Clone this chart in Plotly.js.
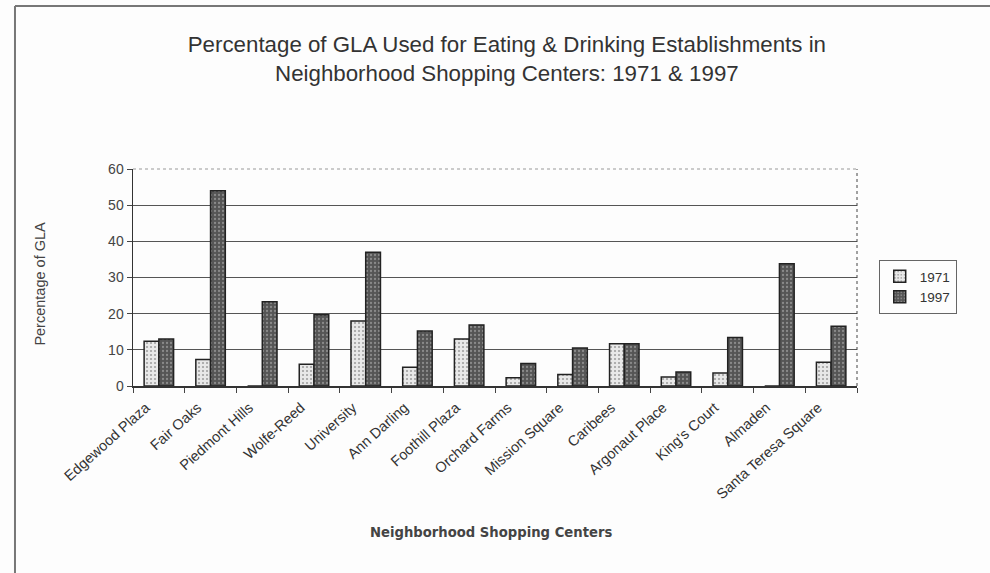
<!DOCTYPE html>
<html>
<head>
<meta charset="utf-8">
<script src="https://cdn.plot.ly/plotly-3.0.1.min.js"></script>
<style>
  html, body { margin: 0; padding: 0; background: #fdfdfd; }
  #chart { width: 990px; height: 573px; }
</style>
</head>
<body>
<div id="chart"></div>
<script>
// Neighborhood shopping centers
const centers = [
  "Edgewood Plaza", "Fair Oaks", "Piedmont Hills", "Wolfe-Reed", "University",
  "Ann Darling", "Foothill Plaza", "Orchard Farms", "Mission Square", "Caribees",
  "Argonaut Place", "King's Court", "Almaden", "Santa Teresa Square"
];

// Share of gross leasable area used for eating & drinking (%)
const pct1971 = [12.4, 7.3, 0, 6.0, 18.0, 5.2, 13.0, 2.3, 3.2, 11.7, 2.5, 3.6, 0, 6.6];
const pct1997 = [13.0, 54.0, 23.3, 19.7, 37.0, 15.2, 16.9, 6.2, 10.5, 11.7, 3.9, 13.4, 33.8, 16.5];

const yTicks = [0, 10, 20, 30, 40, 50, 60];

const font = "Liberation Sans, Arial, sans-serif";

const traces = [
  {
    type: "bar", name: "1971", x: centers, y: pct1971,
    marker: {
      color: "#e6e6e6",
      line: { color: "#222", width: 1.5 },
      pattern: { shape: ".", fgcolor: "#a0a0a0", bgcolor: "#e8e8e8", size: 4, solidity: 0.22 }
    },
    hoverinfo: "x+y"
  },
  {
    type: "bar", name: "1997", x: centers, y: pct1997,
    marker: {
      color: "#5a5a5a",
      line: { color: "#222", width: 1.5 },
      pattern: { shape: ".", fgcolor: "#8a8a8a", bgcolor: "#555555", size: 4, solidity: 0.25 }
    },
    hoverinfo: "x+y"
  }
];

// plot-area frame: dotted top and right edges, outer chart border on left and top
const shapes = [
  { type: "line", xref: "paper", yref: "paper", x0: 0, x1: 1, y0: 1, y1: 1,
    line: { color: "#999", width: 1, dash: "dot" } },
  { type: "line", xref: "paper", yref: "paper", x0: 1, x1: 1, y0: 0, y1: 1,
    line: { color: "#444", width: 1, dash: "dot" } },
  { type: "line", xref: "paper", yref: "paper", x0: -0.163, x1: 1.19, y0: 1.751, y1: 1.751,
    line: { color: "#777", width: 2 } },
  { type: "line", xref: "paper", yref: "paper", x0: -0.163, x1: -0.163, y0: 1.751, y1: -0.9,
    line: { color: "#777", width: 2 } }
];

// axis titles placed as annotations in plot-area units
const annotations = [
  {
    text: "<b>Neighborhood Shopping Centers</b>",
    xref: "paper", yref: "paper", x: 0.495, y: -0.677,
    xanchor: "center", yanchor: "middle", showarrow: false,
    font: { family: "DejaVu Sans, sans-serif", size: 13.2, color: "#444" }
  },
  {
    text: "Percentage of GLA",
    xref: "paper", yref: "paper", x: -0.129, y: 0.47,
    xanchor: "center", yanchor: "middle", showarrow: false, textangle: -90,
    font: { family: font, size: 14.5, color: "#444" }
  }
];

const layout = {
  width: 990, height: 573,
  paper_bgcolor: "#fdfdfd", plot_bgcolor: "#fdfdfd",
  margin: { l: 133, r: 133, t: 169, b: 187 },
  font: { family: font, color: "#333" },
  title: {
    text: "Percentage of GLA Used for Eating & Drinking Establishments in<br>Neighborhood Shopping Centers: 1971 & 1997",
    font: { family: font, size: 22.3, color: "#333" },
    x: 0.512, xanchor: "center", y: 0.91, yanchor: "top"
  },
  barmode: "group", bargap: 0.43, bargroupgap: 0,
  showlegend: true,
  legend: {
    x: 1.03, xanchor: "left", y: 0.456, yanchor: "middle",
    bordercolor: "#666", borderwidth: 1, bgcolor: "#fdfdfd",
    font: { family: font, size: 13.5, color: "#333" },
    itemwidth: 30, tracegroupgap: 4
  },
  xaxis: {
    type: "category",
    tickangle: -42,
    tickson: "boundaries",
    ticks: "outside", ticklen: 5, tickcolor: "#444",
    ticklabelshift: -13, ticklabelstandoff: 6,
    showline: true, linecolor: "#333", linewidth: 1.5,
    showgrid: false,
    tickfont: { family: font, size: 14.5, color: "#333" },
    automargin: false
  },
  yaxis: {
    range: [0, 60],
    tickvals: yTicks,
    ticks: "outside", ticklen: 5, tickcolor: "#444",
    showline: true, linecolor: "#333", linewidth: 1.5,
    showgrid: true, gridcolor: "#555", gridwidth: 1,
    zeroline: false,
    tickfont: { family: font, size: 14, color: "#444" },
    automargin: false
  },
  shapes: shapes,
  annotations: annotations
};

Plotly.newPlot("chart", traces, layout, { displayModeBar: false, staticPlot: true });
</script>
</body>
</html>
